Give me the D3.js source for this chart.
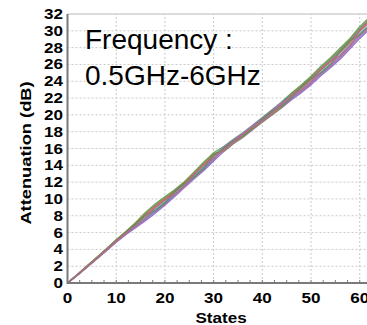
<!DOCTYPE html>
<html><head><meta charset="utf-8">
<script src="https://cdn.jsdelivr.net/npm/d3@7"></script>
<style>body{margin:0;background:#fff}svg{display:block}</style>
</head><body><svg id="c" width="367" height="325"></svg>
<script>
const states = [0,2,4,6,8,10,12,14,16,18,20,22,24,26,28,30,32,34,36,38,40,42,44,46,48,50,52,54,56,58,60,62];
const seriesNames = ["f1","f2","f3","f4","f5","f6","f7","f8","f9","f10"];
const f1 = [0,1.0,2.02,3.04,4.06,5.14,6.13,7.2,8.4,9.4,10.25,11.1,12.05,13.2,14.4,15.5,16.2,17.07,17.87,18.77,19.67,20.6,21.55,22.6,23.55,24.6,25.75,26.8,27.95,29.1,30.5,31.6];
const f2 = [0,0.9,1.88,2.86,3.84,4.86,5.77,6.58,7.4,8.3,9.25,10.3,11.35,12.4,13.4,14.5,15.6,16.53,17.33,18.23,19.13,19.98,20.85,21.8,22.65,23.6,24.65,25.6,26.65,27.85,29.1,30.2];
const f3 = [0,0.97,1.99,3.0,4.0,5.07,6.05,7.07,8.18,9.15,10.03,10.9,11.9,13.0,14.2,15.3,15.75,16.65,17.45,18.35,19.25,20.12,21.0,21.95,22.85,23.8,24.9,25.85,26.95,28.15,29.45,30.55];
const f4 = [0,0.93,1.91,2.9,3.89,4.93,5.85,6.73,7.62,8.55,9.47,10.48,11.5,12.58,13.62,14.72,16.08,16.95,17.75,18.65,19.55,20.48,21.4,22.42,23.35,24.38,25.5,26.52,27.65,28.85,30.18,31.28];
const f5 = [0,0.96,1.97,2.97,3.97,5.03,6.0,6.97,8.0,8.97,9.86,10.79,11.78,12.89,14.01,15.11,15.97,16.86,17.66,18.56,19.46,20.37,21.28,22.29,23.2,24.21,25.32,26.33,27.44,28.64,29.95,31.05];
const f6 = [0,0.94,1.93,2.93,3.93,4.97,5.91,6.83,7.79,8.73,9.64,10.61,11.62,12.71,13.79,14.89,15.83,16.74,17.54,18.44,19.34,20.23,21.12,22.11,23.0,23.99,25.08,26.07,27.16,28.36,29.65,30.75];
const f7 = [0,0.99,2.01,3.02,4.03,5.1,6.09,7.15,8.3,9.27,10.13,11.0,11.98,13.1,14.28,15.38,15.66,16.59,17.39,18.29,19.19,20.06,20.92,22.5,23.45,24.48,25.62,26.65,27.79,28.99,30.32,31.42];
const f8 = [0,0.92,1.89,2.88,3.87,4.9,5.81,6.66,7.5,8.43,9.37,10.39,11.42,12.48,13.52,14.62,16.15,17.01,17.81,18.71,19.61,20.55,21.48,21.88,22.75,23.72,24.78,25.75,26.81,28.01,29.28,30.38];
const f9 = [0,0.95,1.98,2.99,3.99,5.05,6.03,7.02,8.1,8.6,9.5,10.9,11.85,12.6,13.65,15.25,16.0,16.88,17.5,18.4,19.5,20.45,21.05,22.05,23.35,24.35,24.95,25.95,27.55,28.8,29.5,30.6];
const f10 = [0,0.95,1.92,2.92,3.92,4.95,5.88,6.78,7.7,9.05,9.95,10.55,11.55,12.95,14.1,14.8,15.8,16.7,17.7,18.55,19.3,20.2,21.3,22.35,22.95,23.9,25.4,26.4,27.05,28.2,30.05,31.15];
const seriesValues = [f1,f2,f3,f4,f5,f6,f7,f8,f9,f10];
const colors = ["#4a9a50","#8060c0","#c8509a","#4a72c8","#c05048","#40a0a0","#8c9440","#a078c8","#6a8a5a","#c06888"];
const xTicks = [0,10,20,30,40,50,60];
const yTicks = [0,2,4,6,8,10,12,14,16,18,20,22,24,26,28,30,32];
const xMinor = d3.range(0,65,2.5);
const annotation = ["Frequency :","0.5GHz-6GHz"];

const svg = d3.select("#c");
const x = d3.scaleLinear().domain([0,64]).range([67.5, 379.2]);
const y = d3.scaleLinear().domain([0,32]).range([283,14]);
const labFont = "'Liberation Sans', Arial, sans-serif";

// gridlines
svg.append("g").selectAll("line").data(yTicks.filter(d=>d>0&&d<32)).join("line")
  .attr("x1",x(0)).attr("x2",x(64)).attr("y1",d=>y(d)).attr("y2",d=>y(d))
  .attr("stroke","#c8c8c8").attr("stroke-width",1).attr("stroke-dasharray","2,2");
svg.append("g").selectAll("line").data(xTicks.filter(d=>d>0)).join("line")
  .attr("x1",d=>x(d)).attr("x2",d=>x(d)).attr("y1",y(0)).attr("y2",y(32))
  .attr("stroke","#c8c8c8").attr("stroke-width",1).attr("stroke-dasharray","2,2");
svg.append("line").attr("x1",x(0)).attr("x2",x(64)).attr("y1",y(32)).attr("y2",y(32))
  .attr("stroke","#b8b8b8").attr("stroke-width",1);

// annotation
svg.append("g").selectAll("text").data(annotation).join("text")
  .attr("x",85).attr("y",(d,i)=>49+i*36)
  .attr("font-family",labFont).attr("font-size",28)
  .attr("fill","#000").text(d=>d);

// lines
const line = d3.line().x((d,i)=>x(states[i])).y(d=>y(d));
svg.append("g").selectAll("path").data(seriesValues).join("path")
  .attr("d",line).attr("fill","none").attr("stroke",(d,i)=>colors[i])
  .attr("stroke-width",1.4).attr("stroke-opacity",0.85);

// axes lines
svg.append("line").attr("x1",x(0)).attr("x2",x(64)).attr("y1",y(0)).attr("y2",y(0))
  .attr("stroke","#7a7a7a").attr("stroke-width",2);
svg.append("line").attr("x1",x(0)).attr("x2",x(0)).attr("y1",y(0)+1).attr("y2",y(32))
  .attr("stroke","#7a7a7a").attr("stroke-width",2);
svg.append("g").selectAll("line").data(xMinor).join("line")
  .attr("x1",d=>x(d)).attr("x2",d=>x(d)).attr("y1",y(0)).attr("y2",y(0)-3)
  .attr("stroke","#7a7a7a").attr("stroke-width",1);

// tick labels
svg.append("g").selectAll("text").data(yTicks).join("text")
  .attr("transform",d=>`translate(63,${y(d)}) scale(1.22,1)`).attr("dy","0.36em").attr("text-anchor","end")
  .attr("font-family",labFont).attr("font-weight","bold").attr("font-size",14)
  .text(d=>d);
svg.append("g").selectAll("text").data(xTicks).join("text")
  .attr("transform",d=>`translate(${x(d)},303) scale(1.22,1)`).attr("text-anchor","middle")
  .attr("font-family",labFont).attr("font-weight","bold").attr("font-size",14)
  .text(d=>d);
// titles
svg.append("text").attr("transform","translate(221,323) scale(1.22,1)").attr("text-anchor","middle")
  .attr("font-family",labFont).attr("font-weight","bold").attr("font-size",14)
  .text("States");
svg.append("text").attr("transform","translate(31,153) rotate(-90) scale(1.22,1)").attr("text-anchor","middle")
  .attr("font-family",labFont).attr("font-weight","bold").attr("font-size",15)
  .text("Attenuation (dB)");
</script></body></html>
